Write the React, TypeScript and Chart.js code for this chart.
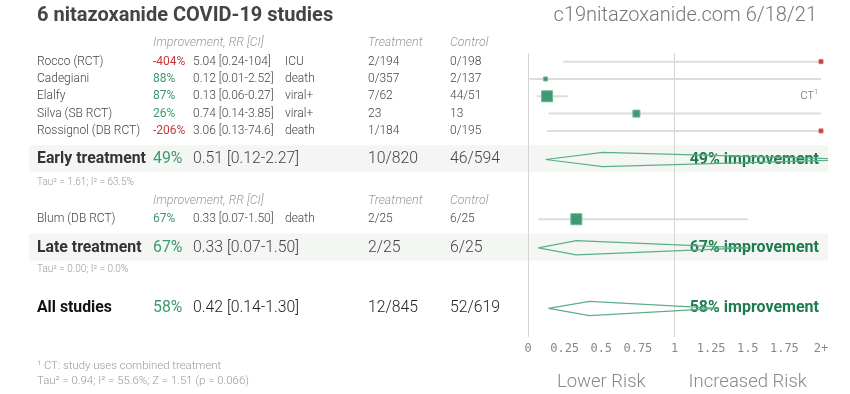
import React, { useEffect, useRef } from 'react';
import { Chart, registerables } from 'chart.js';
Chart.register(...registerables);

// ---- data ----
const STUDIES = ['Rocco (RCT)', 'Cadegiani', 'Elalfy', 'Silva (SB RCT)', 'Rossignol (DB RCT)', 'Blum (DB RCT)'];
const IMPROVEMENT = ['-404%', '88%', '87%', '26%', '-206%', '67%'];
const RR = [5.04, 0.12, 0.13, 0.74, 3.06, 0.33];
const CI_LO = [0.24, 0.01, 0.06, 0.14, 0.13, 0.07];
const CI_HI = [104, 2.52, 0.27, 3.85, 74.6, 1.5];
const OUTCOME = ['ICU', 'death', 'viral+', 'viral+', 'death', 'death'];
const TREATMENT = ['2/194', '0/357', '7/62', '23', '1/184', '2/25'];
const CONTROL = ['0/198', '2/137', '44/51', '13', '0/195', '6/25'];
const WEIGHT = [4, 4, 11, 7, 4, 11];
const COMBINED = [false, false, true, false, false, false];

const SUMMARY_NAMES = ['Early treatment', 'Late treatment', 'All studies'];
const SUMMARY_IMPROVEMENT = ['49%', '67%', '58%'];
const SUMMARY_RR = [0.51, 0.33, 0.42];
const SUMMARY_LO = [0.12, 0.07, 0.14];
const SUMMARY_HI = [2.27, 1.5, 1.3];
const SUMMARY_TREATMENT = ['10/820', '2/25', '12/845'];
const SUMMARY_CONTROL = ['46/594', '6/25', '52/619'];
const SUMMARY_TAU = ['Tau² = 1.61; I² = 63.5%', 'Tau² = 0.00; I² = 0.0%'];

const TICK_VALUES = [0, 0.25, 0.5, 0.75, 1, 1.25, 1.5, 1.75, 2];
const TICK_LABELS = ['0', '0.25', '0.5', '0.75', '1', '1.25', '1.5', '1.75', '2+'];

const TITLE = '6 nitazoxanide COVID-19 studies';
const SOURCE = 'c19nitazoxanide.com 6/18/21';
const FOOTNOTE = '¹ CT: study uses combined treatment';
const OVERALL_STATS = 'Tau² = 0.94; I² = 55.6%; Z = 1.51 (p = 0.066)';

// ---- layout (row positions in y-scale units) ----
const ROW_STUDY = [0.5, 1.5, 2.5, 3.5, 4.5, 9.6];
const ROW_SUMMARY = [6.15, 11.25, 14.75];
const ROW_TAU = [7.45, 12.5];
const ROW_HEADER = [-0.58, 8.55];
const X_MAX = 2;

const F = 'Roboto, "Open Sans", sans-serif';
const GREEN = '#3d9a6f';
const RED = '#c43b3b';

function fmt(v: number) {
  if (v >= 100) return v.toFixed(0);
  if (v >= 10) return v.toFixed(1);
  return v.toFixed(2);
}

function txt(ctx: CanvasRenderingContext2D, s: string, x: number, y: number, font: string, color: string, align: CanvasTextAlign = 'left') {
  ctx.font = font;
  ctx.fillStyle = color;
  ctx.textAlign = align;
  ctx.textBaseline = 'middle';
  ctx.fillText(s, x, y);
}

const tablePlugin = {
  id: 'forestTable',
  beforeDraw(chart: any) {
    const { ctx, chartArea, scales } = chart;
    const y = scales.y;
    ctx.save();
    ctx.fillStyle = '#f3f6f3';
    for (let i = 0; i < 2; i++) {
      const cy = y.getPixelForValue(ROW_SUMMARY[i]) - 0.7;
      ctx.fillRect(29, cy - 13.5, chartArea.right + 7 - 29, 27);
    }
    ctx.restore();
  },
  beforeDatasetsDraw(chart: any) {
    const { ctx, scales } = chart;
    const x = scales.x;
    const y = scales.y;
    ctx.save();
    // titles
    txt(ctx, TITLE, 37, 16, `bold 20px ${F}`, '#444');
    txt(ctx, SOURCE, 817, 16, `300 20px ${F}`, '#777', 'right');
    // headers
    for (const hy of ROW_HEADER) {
      const py = y.getPixelForValue(hy);
      const hf = `italic 300 12.4px ${F}`;
      txt(ctx, 'Improvement, RR [CI]', 153, py, hf, '#999');
      txt(ctx, 'Treatment', 368, py, hf, '#999');
      txt(ctx, 'Control', 450, py, hf, '#999');
    }
    // studies
    const rf = `300 12px ${F}`;
    STUDIES.forEach((name, i) => {
      const py = y.getPixelForValue(ROW_STUDY[i]);
      txt(ctx, name, 37, py, rf, '#444');
      txt(ctx, IMPROVEMENT[i], 153, py, `12px ${F}`, RR[i] > 1 ? RED : GREEN);
      txt(ctx, `${fmt(RR[i])} [${fmt(CI_LO[i])}-${fmt(CI_HI[i])}]`, 193, py, rf, '#444');
      txt(ctx, OUTCOME[i], 285, py, rf, '#444');
      txt(ctx, TREATMENT[i], 368, py, rf, '#444');
      txt(ctx, CONTROL[i], 450, py, rf, '#444');
      if (COMBINED[i]) {
        txt(ctx, '1', 818, py - 4, `300 7px ${F}`, '#555', 'right');
        txt(ctx, 'CT', 814, py, `300 11px ${F}`, '#555', 'right');
      }
    });
    // summaries
    SUMMARY_NAMES.forEach((name, i) => {
      const py = y.getPixelForValue(ROW_SUMMARY[i]);
      const dark = i === 2 ? '#111' : '#333';
      txt(ctx, name, 37, py, `bold 15.8px ${F}`, dark);
      txt(ctx, SUMMARY_IMPROVEMENT[i], 153, py, `15.8px ${F}`, GREEN);
      const tc = i === 2 ? '#222' : '#444';
      txt(ctx, `${fmt(SUMMARY_RR[i])} [${fmt(SUMMARY_LO[i])}-${fmt(SUMMARY_HI[i])}]`, 193, py, `300 15.8px ${F}`, tc);
      txt(ctx, SUMMARY_TREATMENT[i], 368, py, `300 15.8px ${F}`, tc);
      txt(ctx, SUMMARY_CONTROL[i], 450, py, `300 15.8px ${F}`, tc);
      txt(ctx, `${SUMMARY_IMPROVEMENT[i]} improvement`, 819, py, `bold 16px ${F}`, '#1e7b4e', 'right');
    });
    SUMMARY_TAU.forEach((t, i) => {
      txt(ctx, t, 37, y.getPixelForValue(ROW_TAU[i]), `300 10px ${F}`, '#999');
    });
    // footnotes
    txt(ctx, FOOTNOTE, 37, 366, `300 11.4px ${F}`, '#999');
    txt(ctx, OVERALL_STATS, 37, 381, `300 11.4px ${F}`, '#999');
    // risk labels
    txt(ctx, 'Lower Risk', x.getPixelForValue(0.5), 382, `300 18.5px ${F}`, '#888', 'center');
    txt(ctx, 'Increased Risk', x.getPixelForValue(1.5), 382, `300 18.5px ${F}`, '#888', 'center');
    ctx.restore();
  },
};

export default function App() {
  const ref = useRef<HTMLCanvasElement>(null);
  useEffect(() => {
    if (!ref.current) return;
    const ciSets = STUDIES.map((_, i) => ({
      type: 'scatter' as const,
      order: 3,
      data: [
        { x: CI_LO[i], y: ROW_STUDY[i] },
        { x: Math.min(CI_HI[i], X_MAX), y: ROW_STUDY[i] },
      ],
      showLine: true,
      borderColor: '#dcdcdc',
      borderWidth: 2,
      pointRadius: 0,
      clip: false as any,
    }));
    const markerSet = {
      type: 'scatter' as const,
      order: 1,
      data: STUDIES.map((_, i) => ({ x: Math.min(RR[i], X_MAX), y: ROW_STUDY[i] })),
      pointStyle: 'rect' as const,
      pointRadius: WEIGHT.map((w) => w / Math.SQRT2),
      backgroundColor: RR.map((r) => (r > 1 ? RED : '#3d9a72')),
      borderColor: RR.map((r) => (r > 1 ? '#d66' : '#6cb894')),
      borderWidth: 1,
      showLine: false,
      clip: false as any,
    };
    const diamondSets = SUMMARY_NAMES.map((_, i) => {
      const yy = ROW_SUMMARY[i];
      const h = 0.41;
      return {
        type: 'scatter' as const,
        order: 1,
        data: [
          { x: SUMMARY_LO[i], y: yy },
          { x: SUMMARY_RR[i], y: yy - h },
          { x: SUMMARY_HI[i], y: yy },
          { x: SUMMARY_RR[i], y: yy + h },
          { x: SUMMARY_LO[i], y: yy },
        ],
        showLine: true,
        borderColor: '#5eae8a',
        borderWidth: 1.2,
        pointRadius: 0,
        fill: false,
        tension: 0,
        clip: { left: false, top: false, bottom: false, right: 7 } as any,
      };
    });
    const chart = new Chart(ref.current, {
      type: 'scatter',
      data: { datasets: [...ciSets, markerSet, ...diamondSets] as any },
      options: {
        animation: false,
        responsive: false,
        devicePixelRatio: 1,
        events: [],
        layout: { padding: { left: 528, right: 29, top: 53, bottom: 0 } },
        plugins: { legend: { display: false }, tooltip: { enabled: false }, title: { display: false } },
        scales: {
          x: {
            type: 'linear',
            min: 0,
            max: X_MAX,
            afterBuildTicks: (s: any) => {
              s.ticks = TICK_VALUES.map((v) => ({ value: v }));
            },
            afterFit: (s: any) => {
              s.height = 57;
            },
            ticks: {
              callback: (_v: any, i: number) => TICK_LABELS[i],
              font: { family: '"DejaVu Sans Mono", monospace', size: 12 },
              color: '#888',
              padding: 5,
              maxRotation: 0,
              autoSkip: false,
            },
            grid: {
              color: (c: any) => (c.tick && (c.tick.value === 0 || c.tick.value === 1) ? '#d4d4d4' : 'rgba(0,0,0,0)'),
              drawTicks: false,
              lineWidth: 1,
            },
            border: { display: false },
          },
          y: { type: 'linear', min: 0, max: 16.4, reverse: true, display: false },
        },
      },
      plugins: [tablePlugin],
    });
    return () => chart.destroy();
  }, []);
  return (
    <div style={{ position: 'absolute', left: 0, top: 0, width: 850, height: 394, background: '#fff' }}>
      <canvas ref={ref} width={850} height={394} style={{ display: 'block' }} />
    </div>
  );
}
